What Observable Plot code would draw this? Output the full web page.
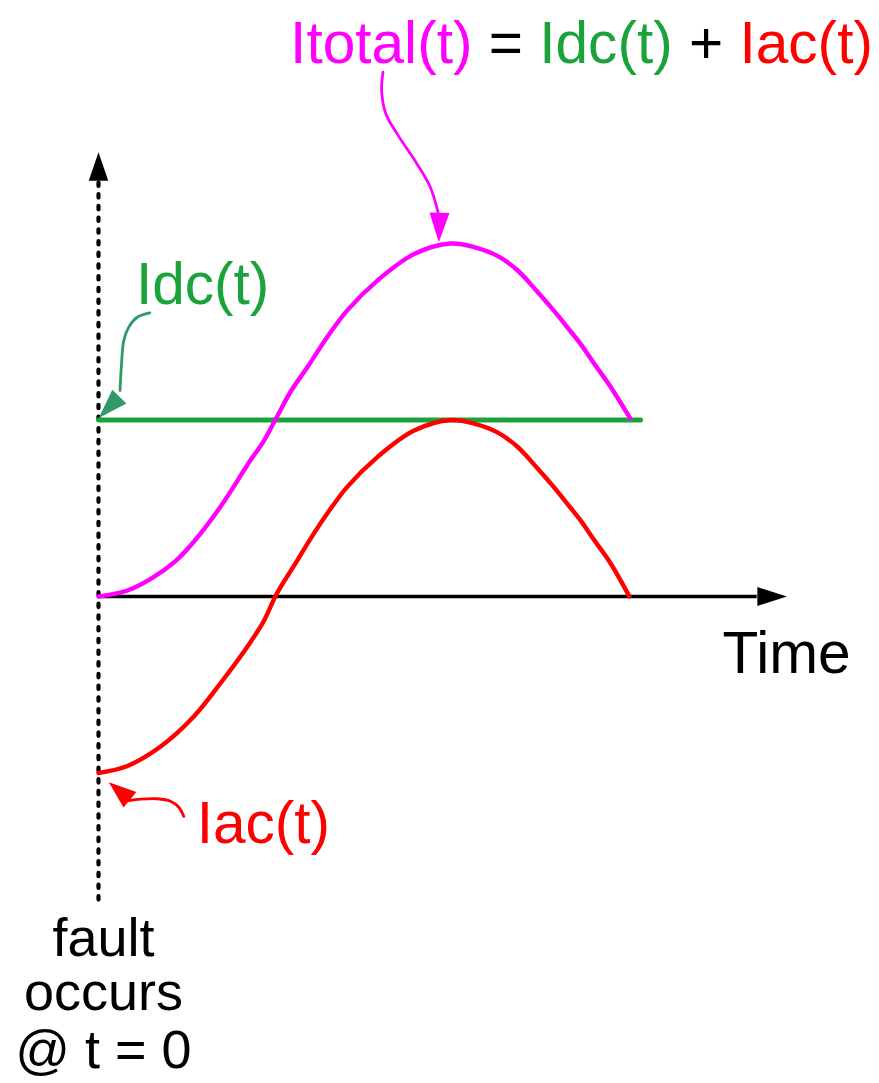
<!DOCTYPE html>
<html>
<head>
<meta charset="utf-8">
<script src="https://cdn.jsdelivr.net/npm/d3@7"></script>
<script src="https://cdn.jsdelivr.net/npm/@observablehq/plot@0.6"></script>
<style>
  html, body { margin: 0; padding: 0; background: #fff; }
  #chart svg { display: block; }
</style>
</head>
<body>
<div id="chart"></div>
<script>
// ---- Data (time in cycles, current in per-unit) ----
const acTime   = [0, 0.041, 0.088, 0.135, 0.173, 0.215, 0.234, 0.253, 0.281, 0.296, 0.324, 0.352, 0.395, 0.447, 0.499, 0.532, 0.565, 0.593, 0.621, 0.645, 0.659, 0.683, 0.702, 0.725, 0.752];
const acValue  = [-1.0, -0.96, -0.85, -0.68, -0.49, -0.26, -0.14, 0.02, 0.20, 0.30, 0.47, 0.62, 0.79, 0.94, 1.0, 0.98, 0.93, 0.85, 0.73, 0.62, 0.55, 0.43, 0.32, 0.19, 0.0];
const totTime  = [0, 0.041, 0.078, 0.109, 0.135, 0.173, 0.215, 0.234, 0.253, 0.272, 0.296, 0.324, 0.352, 0.395, 0.447, 0.499, 0.532, 0.565, 0.593, 0.621, 0.645, 0.659, 0.683, 0.702, 0.725, 0.753];
const totValue = [0, 0.034, 0.11, 0.20, 0.31, 0.51, 0.77, 0.88, 1.02, 1.16, 1.30, 1.47, 1.62, 1.79, 1.94, 2.0, 1.98, 1.93, 1.85, 1.73, 1.62, 1.55, 1.43, 1.32, 1.19, 1.01];
const dcTime   = [0, 0.768];
const dcValue  = [1, 1];

// axes extents
const timeAxisEnd = 0.975;     // arrow tip of the time axis
const currentAxisTop = 2.517;  // arrow tip of the vertical axis
const currentAxisBottom = -1.72;

// annotation leader paths (t, I)
const totLeaderT = [0.403, 0.401, 0.407, 0.423, 0.451, 0.470, 0.481];
const totLeaderI = [2.971, 2.867, 2.735, 2.621, 2.452, 2.319, 2.176];
const dcLeaderT  = [0.0727, 0.0548, 0.0429, 0.0358, 0.0326, 0.0305];
const dcLeaderI  = [1.607, 1.582, 1.526, 1.450, 1.318, 1.167];
const acLeaderT  = [0.1208, 0.1137, 0.1020, 0.0831, 0.0595, 0.0429];
const acLeaderI  = [-1.246, -1.194, -1.160, -1.146, -1.148, -1.156];

// labels
const titleParts  = ["Itotal(t)", " = ", "Idc(t)", " + ", "Iac(t)"];
const titleColors = ["#ff00ff", "#000000", "#1aa33a", "#000000", "#ff0000"];
const faultLines  = ["fault", "occurs", "@ t = 0"];
const faultLineY  = [-2.035, -2.345, -2.67];

const MAGENTA = "#ff00ff", RED = "#ff0000", GREEN = "#1aa33a", TEAL = "#2f9a66", BLACK = "#000000";
const FONT = "'Liberation Sans', Arial, Helvetica, sans-serif";

const zip = (xs, ys) => xs.map((x, i) => ({t: x, v: ys[i]}));
const acData = zip(acTime, acValue);
const totData = zip(totTime, totValue);
const dcData = zip(dcTime, dcValue);

// filled arrow head: tip at origin, pointing "up" before rotation
function head(w, L) {
  return { draw(ctx) { ctx.moveTo(0, 0); ctx.lineTo(-w / 2, L); ctx.lineTo(w / 2, L); ctx.closePath(); } };
}

// measure title segments so they sit side by side
const TITLE_SIZE = 58.6;
const cnv = document.createElement("canvas").getContext("2d");
cnv.font = TITLE_SIZE + "px " + FONT;
let acc = 0;
const titleOffsets = titleParts.map(s => { const o = acc; acc += cnv.measureText(s).width; return o; });

const titleMarks = titleParts.map((s, i) =>
  Plot.text([s], {x: 0.2714, y: 3.025, text: d => d, dx: titleOffsets[i], textAnchor: "start", lineAnchor: "bottom",
    fill: titleColors[i], fontSize: TITLE_SIZE, fontFamily: FONT})
);

const chart = Plot.plot({
  width: 879,
  height: 1083,
  margin: 0,
  x: {domain: [0, 0.75], range: [98, 627.5], axis: null},
  y: {domain: [-1, 2], range: [772.5, 243], axis: null},
  style: {fontFamily: FONT, background: "#fff", overflow: "visible"},
  marks: [
    // vertical dotted axis
    Plot.ruleX([0], {y1: currentAxisBottom, y2: 2.357, stroke: BLACK, strokeWidth: 4.2, strokeDasharray: "3.4 8.3", strokeLinecap: "round"}),
    Plot.dot([{t: 0, v: currentAxisTop}], {x: "t", y: "v", symbol: head(19.5, 28.5), fill: BLACK, stroke: null, r: 10, rotate: 0}),
    // time axis
    Plot.ruleY([0], {x1: 0, x2: 0.933, stroke: BLACK, strokeWidth: 3.6}),
    Plot.dot([{t: timeAxisEnd, v: 0}], {x: "t", y: "v", symbol: head(19, 29.5), fill: BLACK, stroke: null, r: 10, rotate: 90}),
    // series
    Plot.line(dcData, {x: "t", y: "v", stroke: GREEN, strokeWidth: 4.8}),
    Plot.line(acData, {x: "t", y: "v", stroke: RED, strokeWidth: 4.4, curve: "catmull-rom"}),
    Plot.line(totData, {x: "t", y: "v", stroke: MAGENTA, strokeWidth: 4.4, curve: "catmull-rom"}),
    // leaders
    Plot.line(zip(totLeaderT, totLeaderI), {x: "t", y: "v", stroke: MAGENTA, strokeWidth: 2.8, curve: "catmull-rom"}),
    Plot.dot([{t: 0.482, v: 2.007}], {x: "t", y: "v", symbol: head(20, 29.5), fill: MAGENTA, stroke: null, r: 10, rotate: 181.4}),
    Plot.line(zip(dcLeaderT, dcLeaderI), {x: "t", y: "v", stroke: TEAL, strokeWidth: 2.8, curve: "catmull-rom"}),
    Plot.dot([{t: 0.0004, v: 1.012}], {x: "t", y: "v", symbol: head(19.6, 29.6), fill: TEAL, stroke: null, r: 10, rotate: -136}),
    Plot.line(zip(acLeaderT, acLeaderI), {x: "t", y: "v", stroke: RED, strokeWidth: 2.8, curve: "catmull-rom"}),
    Plot.dot([{t: 0.0146, v: -1.052}], {x: "t", y: "v", symbol: head(20, 27.5), fill: RED, stroke: null, r: 10, rotate: -50.2}),
    // labels
    Plot.text(["Idc(t)"], {x: 0.053, y: 1.66, text: d => d, textAnchor: "start", lineAnchor: "bottom", fill: GREEN, fontSize: 58.6}),
    Plot.text(["Iac(t)"], {x: 0.139, y: -1.399, text: d => d, textAnchor: "start", lineAnchor: "bottom", fill: RED, fontSize: 58.6}),
    Plot.text(["Time"], {x: 0.884, y: -0.436, text: d => d, textAnchor: "start", lineAnchor: "bottom", fill: BLACK, fontSize: 58.6}),
    Plot.text(faultLines, {x: 0.007, y: (d, i) => faultLineY[i], text: d => d, textAnchor: "middle", lineAnchor: "bottom", fill: BLACK, fontSize: 54}),
    ...titleMarks
  ]
});
document.getElementById("chart").append(chart);
</script>
</body>
</html>
